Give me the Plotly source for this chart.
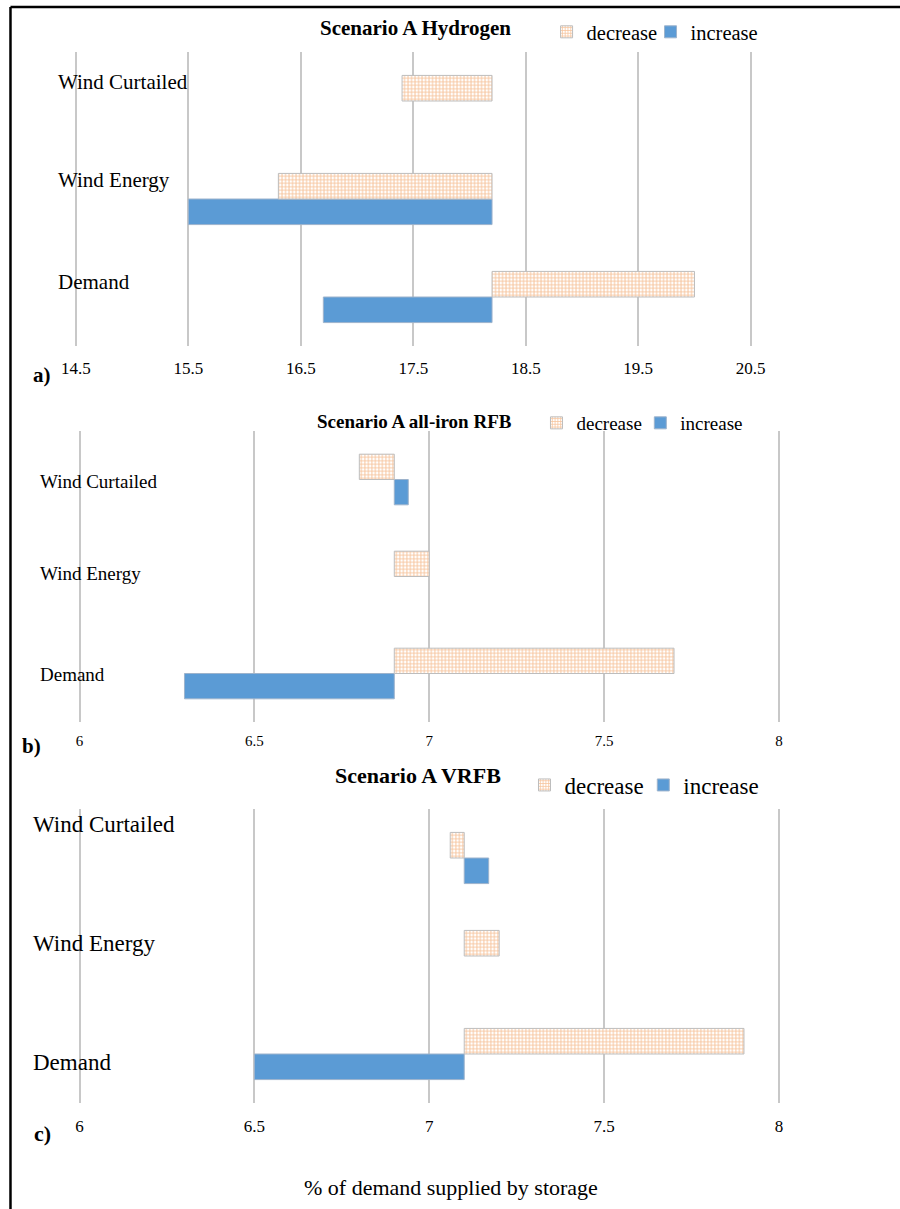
import plotly.graph_objects as go

# ---------------------------------------------------------------- data
categories = ["Demand", "Wind Energy", "Wind Curtailed"]

# Scenario A Hydrogen (% of demand supplied by storage)
h2_base = 18.2
h2_decrease = [20.0, 16.3, 17.4]
h2_increase = [16.7, 15.5, None]
h2_ticks = [14.5, 15.5, 16.5, 17.5, 18.5, 19.5, 20.5]

# Scenario A all-iron RFB
fe_base = 6.9
fe_decrease = [7.7, 7.0, 6.8]
fe_increase = [6.3, None, 6.94]

# Scenario A VRFB
v_base = 7.1
v_decrease = [7.9, 7.2, 7.06]
v_increase = [6.5, None, 7.17]

rfb_ticks = [6, 6.5, 7, 7.5, 8]

panel_titles = ["Scenario A Hydrogen", "Scenario A all-iron RFB", "Scenario A VRFB"]
panel_tags = ["a)", "b)", "c)"]
series_names = ["decrease", "increase"]
x_title = "% of demand supplied by storage"

# ---------------------------------------------------------------- styling
W, H = 900, 1209
SERIF = "Liberation Serif"
BLUE = "#5B9BD5"
ORANGE = "#EE8A3C"
GRID = "#C8C8C8"


def fx(px):
    return px / W


def fy(py):
    return 1 - py / H


# per panel: x pixel of the first tick, pixels per unit, x range, y pixel span
panels = [
    dict(t0=14.5, px0=67.6, ppu=113.6, rng=(14.45, 21.2), top=52, bottom=346,
         ticks=h2_ticks, tickfont=17, standoff=10,
         base=h2_base, dec=h2_decrease, inc=h2_increase,
         title_xy=(410.7, 28), title_size=21,
         legend_x=(543.0, 648.0), legend_y=32, legend_size=20.5,
         catfont=21, cat_left=47.5, cat_shift=[15, 19, 19],
         tag_xy=(33.3, 375), tag_size=21),
    dict(t0=6.0, px0=71.3, ppu=353.2, rng=(5.98, 8.2), top=431, bottom=722,
         ticks=rfb_ticks, tickfont=15, standoff=8,
         base=fe_base, dec=fe_decrease, inc=fe_increase,
         title_xy=(409.7, 422), title_size=19,
         legend_x=(532.8, 637.7), legend_y=423, legend_size=19,
         catfont=19, cat_left=29.3, cat_shift=[-1, 3, -2],
         tag_xy=(23.2, 746), tag_size=21),
    dict(t0=6.0, px0=71.3, ppu=353.2, rng=(5.98, 8.2), top=809, bottom=1103,
         ticks=rfb_ticks, tickfont=17, standoff=11,
         base=v_base, dec=v_decrease, inc=v_increase,
         title_xy=(413.2, 776), title_size=22,
         legend_x=(520.7, 640.7), legend_y=785, legend_size=23,
         catfont=23, cat_left=22.2, cat_shift=[-8, 13, 34],
         tag_xy=(34.3, 1133), tag_size=22),
]

fig = go.Figure()
annotations = []
layout_axes = {}
legends = {}

for i, p in enumerate(panels):
    n = "" if i == 0 else str(i + 1)
    xa, ya = "x" + n, "y" + n
    # one legend box per entry: decrease -> legend{1,2,3}, increase -> legend{4,5,6}
    leg_dec = "legend" + n
    leg_inc = "legend" + str(i + 4)

    def span(vals):
        return [None if v is None else v - p["base"] for v in vals]

    # lower bar of each pair: increase
    fig.add_trace(go.Bar(
        y=categories, x=span(p["inc"]), base=p["base"], orientation="h",
        name=series_names[1], xaxis=xa, yaxis=ya, legend=leg_inc,
        showlegend=True,
        marker=dict(color=BLUE, line=dict(color="#9DB3CC", width=1)),
        hoverinfo="skip",
    ))
    # upper bar of each pair: decrease (hatched)
    fig.add_trace(go.Bar(
        y=categories, x=span(p["dec"]), base=p["base"], orientation="h",
        name=series_names[0], xaxis=xa, yaxis=ya, legend=leg_dec,
        showlegend=True,
        marker=dict(color="#FFFFFF", line=dict(color="#BDBDBD", width=1),
                    pattern=dict(shape="+", fgcolor=ORANGE, bgcolor="#FFFFFF",
                                 size=3.5, solidity=0.48)),
        hoverinfo="skip",
    ))

    lo, hi = p["rng"]
    x0 = p["px0"] - (p["t0"] - lo) * p["ppu"]
    x1 = p["px0"] + (hi - p["t0"]) * p["ppu"]

    layout_axes["xaxis" + n] = dict(
        domain=[fx(x0), fx(x1)], range=[lo, hi], anchor=ya,
        tickmode="array", tickvals=p["ticks"],
        ticktext=[f"{t:g}" for t in p["ticks"]],
        showgrid=True, gridcolor=GRID, gridwidth=1.5,
        zeroline=False, showline=False, ticks="",
        ticklabelstandoff=p["standoff"],
        tickfont=dict(family=SERIF, size=p["tickfont"], color="#000000"),
    )
    layout_axes["yaxis" + n] = dict(
        domain=[fy(p["bottom"]), fy(p["top"])], anchor=xa,
        type="category", categoryorder="array", categoryarray=categories,
        range=[-0.5, 2.5], showticklabels=False, showgrid=False,
        zeroline=False, showline=False,
    )

    for leg, lx in zip((leg_dec, leg_inc), p["legend_x"]):
        legends[leg] = dict(
            orientation="h", x=fx(lx), y=fy(p["legend_y"]),
            xanchor="left", yanchor="middle", bgcolor="rgba(0,0,0,0)",
            font=dict(family=SERIF, size=p["legend_size"], color="#000000"),
            itemwidth=30,
        )

    # panel title
    annotations.append(dict(
        text=f"<b>{panel_titles[i]}</b>", xref="paper", yref="paper",
        x=fx(p["title_xy"][0]), y=fy(p["title_xy"][1]),
        xanchor="center", yanchor="middle", showarrow=False,
        font=dict(family=SERIF, size=p["title_size"], color="#000000"),
    ))
    # category labels
    for c, sh in zip(categories, p["cat_shift"]):
        annotations.append(dict(
            text=c, xref="paper", yref=ya, x=fx(p["cat_left"]), y=c,
            yshift=sh, xanchor="left", yanchor="middle", showarrow=False,
            font=dict(family=SERIF, size=p["catfont"], color="#000000"),
        ))
    # panel tag
    annotations.append(dict(
        text=f"<b>{panel_tags[i]}</b>", xref="paper", yref="paper",
        x=fx(p["tag_xy"][0]), y=fy(p["tag_xy"][1]),
        xanchor="center", yanchor="middle", showarrow=False,
        font=dict(family=SERIF, size=p["tag_size"], color="#000000"),
    ))

annotations.append(dict(
    text=x_title, xref="paper", yref="paper", x=fx(446), y=fy(1187),
    xanchor="center", yanchor="middle", showarrow=False,
    font=dict(family=SERIF, size=22, color="#000000"),
))

# outer frame: left and top edges
shapes = [
    dict(type="line", xref="paper", yref="paper", x0=fx(1.5), x1=fx(1.5),
         y0=-0.02, y1=fy(7), line=dict(color="#000000", width=2.5)),
    dict(type="line", xref="paper", yref="paper", x0=fx(1.5), x1=1.02,
         y0=fy(7), y1=fy(7), line=dict(color="#000000", width=2.5)),
]

fig.update_layout(
    width=W, height=H, margin=dict(l=0, r=0, t=0, b=0),
    paper_bgcolor="#FFFFFF", plot_bgcolor="#FFFFFF",
    showlegend=True,
    barmode="group", bargap=0.478, bargroupgap=0,
    annotations=annotations, shapes=shapes,
    **layout_axes, **legends,
)

fig.write_html("out.html")
